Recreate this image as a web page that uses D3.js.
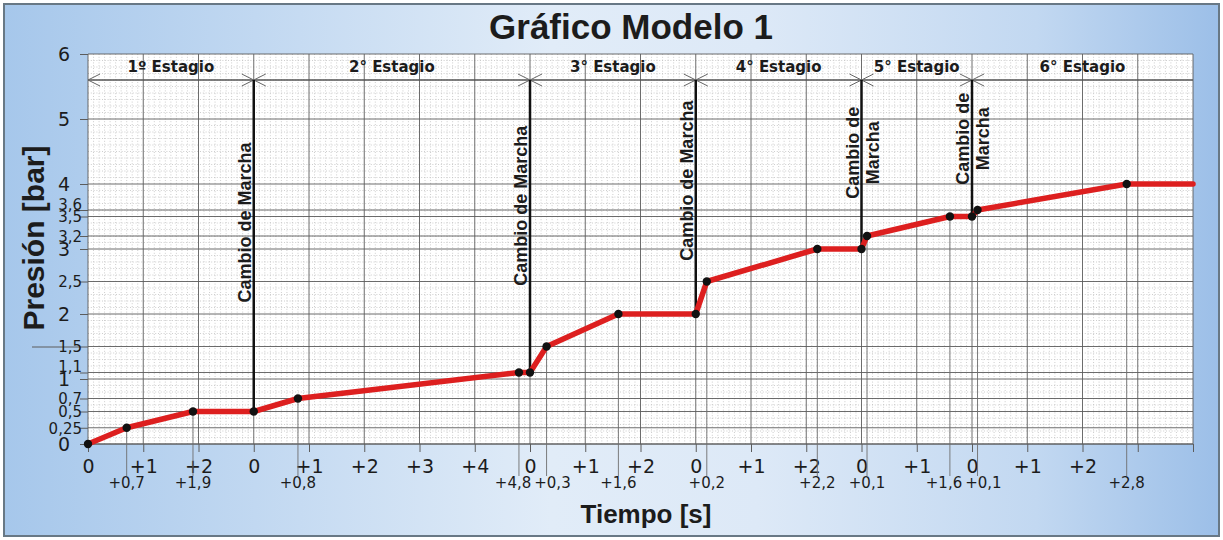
<!DOCTYPE html>
<html lang="es">
<head>
<meta charset="utf-8">
<title>Gráfico Modelo 1</title>
<script src="https://cdn.jsdelivr.net/npm/d3@7"></script>
<style>
  body { margin: 0; background: #fff; }
  .num { font-family: "DejaVu Sans", sans-serif; fill: #1c1c1c; }
  .bold { font-family: "Liberation Sans", Arial, sans-serif; font-weight: bold; fill: #1c1c1c; }
  .stage { font-family: "DejaVu Sans", sans-serif; font-weight: bold; fill: #1c1c1c; font-size: 15px; }
</style>
</head>
<body>
<script>
// stages (name + length in seconds)
const stageNames = ["1º Estagio", "2° Estagio", "3° Estagio", "4° Estagio", "5° Estagio", "6° Estagio"];
const stageLengths = [3, 5, 3, 3, 2, 4];

// pressure curve, time is global seconds
const times     = [0, 0.7, 1.9, 3, 3.8, 7.8, 8, 8.3, 9.6, 11, 11.2, 13.2, 14, 14.1, 15.6, 16, 16.1, 18.8, 20];
const pressures = [0, 0.25, 0.5, 0.5, 0.7, 1.1, 1.1, 1.5, 2, 2, 2.5, 3, 3, 3.2, 3.5, 3.5, 3.6, 4, 4];

// axis ticks
const yTicks = [0, 0.25, 0.5, 0.7, 1, 1.1, 1.5, 2, 2.5, 3, 3.2, 3.5, 3.6, 4, 5, 6];
const xTickLabels = ["0", "+1", "+2", "0", "+1", "+2", "+3", "+4", "0", "+1", "+2",
                     "0", "+1", "+2", "0", "+1", "0", "+1", "+2", "", ""];

const W = 1223, H = 540;
const pL = 88, pR = 1193, pT = 54, pB = 444;
const dimY = 80; // dimension line with the stage arrows

const x = d3.scaleLinear().domain([0, 20]).range([pL, pR]);
const y = d3.scaleLinear().domain([0, 6]).range([pB, pT]);
const comma = v => String(+v.toFixed(2)).replace(".", ",");

const stageStarts = stageLengths.map((d, i) => d3.sum(stageLengths.slice(0, i)));

const svg = d3.select("body").append("svg").attr("width", W).attr("height", H);

// background
const grad = svg.append("defs").append("linearGradient").attr("id", "bg");
[[0, "#a6c7eb"], [0.45, "#e1ecf8"], [0.62, "#dde9f7"], [0.85, "#c2d8f1"], [1, "#9cbfe8"]].forEach(s =>
  grad.append("stop").attr("offset", s[0]).attr("stop-color", s[1]));
svg.append("rect").attr("x", 4).attr("y", 4).attr("width", W - 8).attr("height", H - 8)
  .attr("fill", "url(#bg)").attr("stroke", "#687885").attr("stroke-width", 2);

svg.append("text").attr("class", "bold").attr("x", 631).attr("y", 39)
  .attr("text-anchor", "middle").style("font-size", "35px").text("Gráfico Modelo 1");

// plot area
svg.append("rect").attr("x", pL).attr("y", pT).attr("width", pR - pL).attr("height", pB - pT)
  .attr("fill", "#fff");

// minor dotted grid, every 0.1
const minor = svg.append("g").attr("stroke", "#c2c2c2").attr("stroke-width", 0.8).attr("stroke-dasharray", "1,1.8");
minor.selectAll("line.v").data(d3.range(1, 200).filter(i => i % 10)).join("line")
  .attr("x1", i => x(i / 10)).attr("x2", i => x(i / 10)).attr("y1", pT).attr("y2", pB);
minor.selectAll("line.h").data(d3.range(1, 60).filter(i => i % 10)).join("line")
  .attr("y1", i => y(i / 10)).attr("y2", i => y(i / 10)).attr("x1", pL).attr("x2", pR);

// major grid
const grid = svg.append("g").attr("stroke", "#5c5c5c").attr("stroke-width", 0.9);
grid.selectAll("line.h").data(yTicks).join("line")
  .attr("x1", pL).attr("x2", pR).attr("y1", d => y(d)).attr("y2", d => y(d));
grid.selectAll("line.v").data(d3.range(0, 21)).join("line")
  .attr("x1", d => x(d)).attr("x2", d => x(d)).attr("y1", pT).attr("y2", pB);

// y axis
const yAxis = svg.append("g").attr("transform", `translate(${pL},0)`)
  .call(d3.axisLeft(y).tickValues(yTicks).tickSize(8).tickFormat(comma));
yAxis.select(".domain").remove();
yAxis.selectAll(".tick line").attr("stroke", "#5c5c5c").attr("x2", d => d === 1.5 ? -56 : -8);
yAxis.selectAll(".tick text").attr("class", "num").attr("fill", null)
  .style("font-size", d => Number.isInteger(d) ? "19px" : "15px")
  .attr("x", d => Number.isInteger(d) ? -18 : -6)
  .attr("dy", "0.35em")
  .attr("transform", (d, i) => (i > 0 && y(yTicks[i - 1]) - y(d) < 8) ? "translate(0,-6)" : null);

// x axis, whole seconds
const xAxis = svg.append("g").attr("transform", `translate(0,${pB})`)
  .call(d3.axisBottom(x).tickValues(d3.range(0, 21)).tickSize(8).tickFormat((d, i) => xTickLabels[i]));
xAxis.select(".domain").attr("stroke", "#5c5c5c").attr("d", `M${pL},0H${pR}`);
xAxis.selectAll(".tick line").attr("stroke", "#5c5c5c");
xAxis.selectAll(".tick text").attr("class", "num").attr("fill", null)
  .style("font-size", "19px").attr("y", 29).attr("dy", 0);

// drop lines + offset labels for the intermediate points
const pts = times.map((t, i) => ({ t, p: pressures[i], i }));
const mids = pts.filter(d => !Number.isInteger(d.t));
svg.append("g").selectAll("line").data(mids).join("line")
  .attr("x1", d => x(d.t)).attr("x2", d => x(d.t)).attr("y1", d => y(d.p)).attr("y2", 476)
  .attr("stroke", "#6e6e6e").attr("stroke-width", 0.9);
const midLabels = svg.append("g").selectAll("text").data(mids).join("text")
  .attr("class", "num").style("font-size", "15px").attr("text-anchor", "middle")
  .attr("x", d => x(d.t)).attr("y", 488)
  .text(d => {
    const s = d3.max(stageStarts.filter(st => st <= d.t));
    return "+" + comma(d.t - s);
  });
// push neighbouring labels apart where they collide
const lab = midLabels.nodes().map(n => ({ n, cx: +n.getAttribute("x"), w: n.getComputedTextLength() }));
for (let i = 1; i < lab.length; i++) {
  const a = lab[i - 1], b = lab[i];
  const over = (a.cx + a.w / 2 + 3) - (b.cx - b.w / 2);
  if (over > 0) { a.cx -= over / 2; b.cx += over / 2; }
}
lab.forEach(l => l.n.setAttribute("x", l.cx));

// dimension line with arrows
const dim = svg.append("g").attr("stroke", "#666").attr("stroke-width", 1).attr("fill", "none");
dim.append("line").attr("x1", pL).attr("x2", pR).attr("y1", dimY).attr("y2", dimY)
  .attr("stroke", "#555").attr("stroke-width", 1.3);
stageStarts.forEach((s, i) => {
  const a = x(s), b = x(s + stageLengths[i]);
  dim.append("path").attr("d", `M${a + 12},${dimY - 6}L${a},${dimY}L${a + 12},${dimY + 6}`);
  if (i < stageStarts.length - 1)
    dim.append("path").attr("d", `M${b - 12},${dimY - 6}L${b},${dimY}L${b - 12},${dimY + 6}`);
});
svg.append("g").selectAll("text").data(stageNames).join("text")
  .attr("class", "stage").attr("text-anchor", "middle")
  .attr("x", (d, i) => x(stageStarts[i] + stageLengths[i] / 2)).attr("y", 72).text(d => d);

// gear change lines
const shifts = stageStarts.slice(1).map(s => ({ t: s, p: pressures[times.indexOf(s)] }));
svg.append("g").selectAll("line").data(shifts).join("line")
  .attr("x1", d => x(d.t)).attr("x2", d => x(d.t)).attr("y1", dimY).attr("y2", d => y(d.p))
  .attr("stroke", "#111").attr("stroke-width", 2.5);
shifts.forEach(d => {
  const px = x(d.t), py = y(d.p);
  const cy = dimY + 0.43 * (py - dimY);
  const lines = (py - dimY) < 180 ? ["Cambio de", "Marcha"] : ["Cambio de Marcha"];
  const t = svg.append("text").attr("class", "bold").style("font-size", "18px")
    .attr("text-anchor", "middle")
    .attr("transform", `translate(${px - 3},${cy}) rotate(-90)`);
  lines.forEach((l, k) => t.append("tspan").attr("x", 0).attr("y", k * 20).text(l));
});

// pressure curve
svg.append("path").datum(pts)
  .attr("d", d3.line().x(d => x(d.t)).y(d => y(d.p)))
  .attr("fill", "none").attr("stroke", "#dd1f1f").attr("stroke-width", 5.5)
  .attr("stroke-linejoin", "round").attr("stroke-linecap", "round");
svg.append("g").selectAll("circle").data(pts.slice(0, -1)).join("circle")
  .attr("cx", d => x(d.t)).attr("cy", d => y(d.p)).attr("r", 4.2).attr("fill", "#111");

// axis titles
svg.append("text").attr("class", "bold").attr("x", 646).attr("y", 523)
  .attr("text-anchor", "middle").style("font-size", "26px").text("Tiempo [s]");
svg.append("text").attr("class", "bold").style("font-size", "30px").attr("text-anchor", "middle")
  .attr("transform", "translate(44,238) rotate(-90)").text("Presión [bar]");
</script>
</body>
</html>
